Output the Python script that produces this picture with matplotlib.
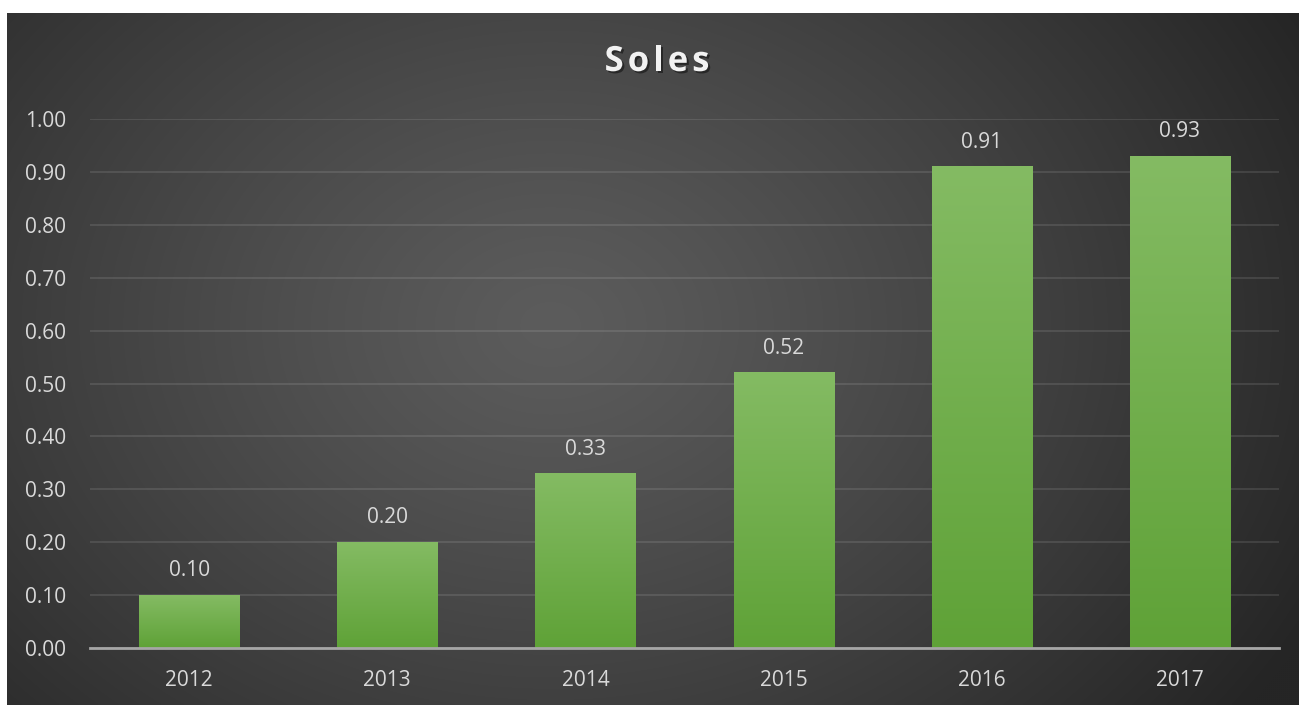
"""
  Bar chart of Soles per year on a dark gradient background
"""
import numpy as np
import matplotlib
matplotlib.use('Agg')
import matplotlib.pyplot as plt
import matplotlib.patheffects as pe
from matplotlib.colors import LinearSegmentedColormap

years = ['2012', '2013', '2014', '2015', '2016', '2017']
soles = [0.10, 0.20, 0.33, 0.52, 0.91, 0.93]
yticks = [0.0, 0.1, 0.2, 0.3, 0.4, 0.5, 0.6, 0.7, 0.8, 0.9, 1.0]
title = 'Soles'

W, H = 1299, 705
plt.rcParams['font.family'] = ['Open Sans', 'DejaVu Sans']

fig = plt.figure(figsize=(W / 100, H / 100), dpi=100)
fig.patch.set_facecolor('white')

# radial background
bg = fig.add_axes([7 / W, 0, 1 - 7 / W, 1 - 13 / H])
bg.set_axis_off()
ny, nx = 346, 646
yy, xx = np.mgrid[0:ny, 0:nx]
cx, cy = nx * 0.42, ny * 0.45
r = np.sqrt(((xx - cx) / (nx * 0.66)) ** 2 + ((yy - cy) / (ny * 0.95)) ** 2)
r = np.clip(r, 0, 1)
light = np.array([0x5c, 0x5c, 0x5c]) / 255
dark = np.array([0x25, 0x25, 0x25]) / 255
t = r ** 1.2
img = light[None, None, :] * (1 - t[..., None]) + dark[None, None, :] * t[..., None]
bg.imshow(img, aspect='auto', extent=[0, 1, 0, 1], interpolation='bilinear')
bg.set_xlim(0, 1)
bg.set_ylim(0, 1)

# main axes
ax = fig.add_axes([90 / W, (H - 648) / H, 1189 / W, (648 - 119) / H])
ax.patch.set_alpha(0)
x = np.arange(len(years))
bars = ax.bar(x, soles, width=0.505, color='#6fb046', zorder=3,
              path_effects=[pe.SimplePatchShadow(offset=(0, -1), shadow_rgbFace='black', alpha=0.3),
                            pe.Normal()])

# vertical gradient on each bar
cmap = LinearSegmentedColormap.from_list('g', ['#5fa237', '#84bb63'])
grad = np.linspace(0, 1, 256).reshape(-1, 1)
for b in bars:
    x0, y0 = b.get_x(), b.get_y()
    ax.imshow(grad, cmap=cmap, aspect='auto', origin='lower', zorder=4,
              extent=[x0, x0 + b.get_width(), y0, y0 + b.get_height()])

for xi, v in zip(x, soles):
    ax.annotate('%.2f' % v, (xi, v), xytext=(0, 10), textcoords='offset points',
                ha='center', va='bottom', color='#d9d9d9', fontsize=15, zorder=5)

ax.set_xlim(-0.5, len(years) - 0.5)
ax.set_ylim(0, 1.0)
ax.set_yticks(yticks)
ax.set_yticklabels(['%.2f' % v for v in yticks])
ax.set_xticks(x)
ax.set_xticklabels(years)
ax.tick_params(axis='both', length=0, colors='#d9d9d9', labelsize=15)
ax.tick_params(axis='y', pad=17)
ax.tick_params(axis='x', pad=16)
ax.grid(axis='y', color='white', alpha=0.1, linewidth=1.5, zorder=1)
for s in ['top', 'right', 'left']:
    ax.spines[s].set_visible(False)
ax.spines['bottom'].set_color('#a6a6a6')
ax.spines['bottom'].set_linewidth(2)
ax.spines['bottom'].set_zorder(6)

# letter-spaced title
renderer = fig.canvas.get_renderer()
spacing = 4
chars = []
widths = []
for ch in title:
    tx = fig.text(0, 0, ch, fontsize=25, fontweight='bold', color='#f2f2f2',
                  ha='left', va='center',
                  path_effects=[pe.withSimplePatchShadow(offset=(1.5, -1.5),
                                                         shadow_rgbFace='black', alpha=0.45)])
    chars.append(tx)
    widths.append(tx.get_window_extent(renderer).width)
total = sum(widths) + spacing * (len(title) - 1)
xpos = 657 - total / 2
for tx, w in zip(chars, widths):
    tx.set_position((xpos / W, 1 - 62 / H))
    xpos += w + spacing

plt.savefig('out.png', dpi=100, facecolor=fig.get_facecolor())
